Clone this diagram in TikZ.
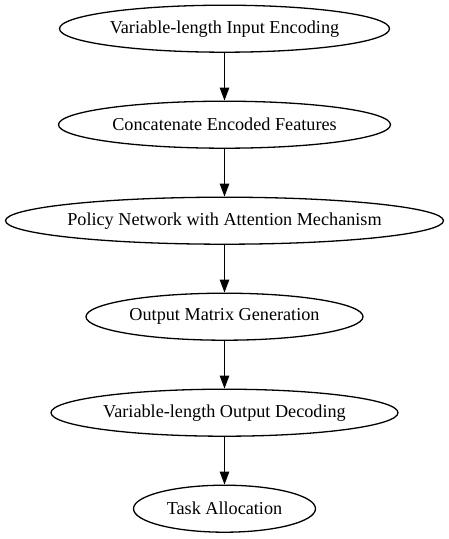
\documentclass[tikz,border=0pt]{standalone}
\usepackage{fontspec}
\setmainfont{Liberation Serif}
\usepackage{tikz}
\usetikzlibrary{arrows.meta}
\usetikzlibrary{shapes.geometric}

\begin{document}
\begin{tikzpicture}[every node/.style={ellipse,draw,line width=1.3bp,inner xsep=-60bp,inner ysep=0pt,minimum height=47bp,font=\fontsize{18.2bp}{22bp}\selectfont},flow/.style={line width=1.3bp,-{Triangle[length=13bp,width=9.5bp]}}]
	\useasboundingbox (0,0) rectangle (449bp,-539bp);
	\node[minimum width=330bp] (enc) at (224.5bp,-28.7bp) {Variable-length Input Encoding};
	\node[minimum width=332bp] (cat) at (224.5bp,-124.7bp) {Concatenate Encoded Features};
	\node[minimum width=438bp] (pol) at (224.5bp,-220.7bp) {Policy Network with Attention Mechanism};
	\node[minimum width=277bp] (mat) at (224.5bp,-316.7bp) {Output Matrix Generation};
	\node[minimum width=347bp] (dec) at (224.5bp,-412.7bp) {Variable-length Output Decoding};
	\node[minimum width=182bp] (task) at (224.5bp,-508.7bp) {Task Allocation};
	\draw[flow] (enc) -- (cat);
	\draw[flow] (cat) -- (pol);
	\draw[flow] (pol) -- (mat);
	\draw[flow] (mat) -- (dec);
	\draw[flow] (dec) -- (task);
\end{tikzpicture}
\end{document}
